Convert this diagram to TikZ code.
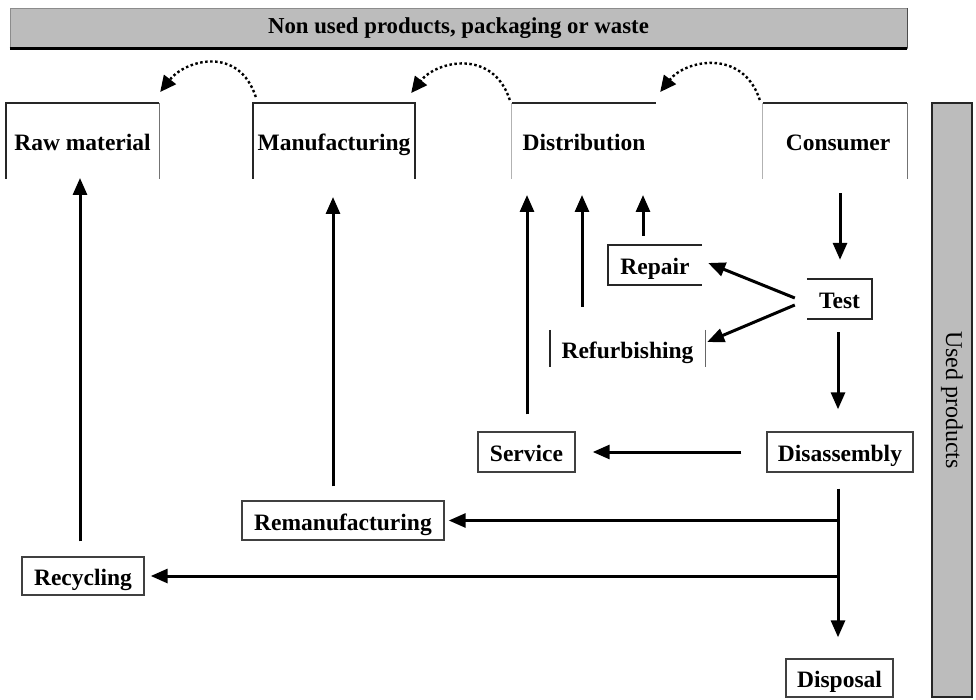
\documentclass[tikz,border=0pt]{standalone}
\usepackage{fontspec}
\setmainfont{Liberation Serif}
\usetikzlibrary{arrows.meta,calc}
\definecolor{panelgray}{HTML}{BCBCBC}
\begin{document}
\begin{tikzpicture}[x=1pt,y=-1pt,
  stage/.style={inner sep=0pt, text height=21pt, text depth=2pt, font=\fontsize{23.5}{26}\selectfont\bfseries},
  rim/.style={line width=1.8pt, draw=black!85},
  softrim/.style={line width=1.2pt, draw=black!30},
  flow/.style={line width=3pt, -{Triangle[length=17pt,width=14pt]}},
  loopback/.style={line width=2.4pt, dash pattern=on 2.5pt off 2.5pt, -{Triangle[length=16pt,width=15pt]}},
  panel/.style={fill=panelgray, inner sep=0pt},
]
\useasboundingbox (0,0) rectangle (976,700);

% banner for material that leaves the chain
\node[panel, draw=black!45, line width=0.8pt, minimum width=897pt, minimum height=40pt,
      font=\fontsize{22.8}{25}\selectfont\bfseries] (waste) at (458.5,28)
      {Non used products, packaging or waste};
\draw[line width=2.4pt] (waste.south west) -- (waste.south east);
\draw[line width=1.2pt, black!70] (waste.south east) -- (waste.north east);

% side bar for returned products
\node[panel, draw=black!85, line width=1.6pt, rotate=-90, minimum width=594pt, minimum height=40pt,
      font=\fontsize{24}{26}\selectfont] (used) at (952,400) {Used products};

% forward chain stages (open at the bottom)
\node[stage, minimum width=153pt, minimum height=76pt] (raw)  at (82.5,141) {Raw material};
\node[stage, minimum width=162pt, minimum height=76pt] (manu) at (334,141)  {Manufacturing};
\node[stage, minimum width=144pt, minimum height=76pt] (dist) at (584,141)  {Distribution};
\node[stage, minimum width=144pt, minimum height=76pt] (cons) at (838,141)  {Consumer};

\coordinate (topedge) at (0,103);
\coordinate (botedge) at (0,179);
\draw[rim] (raw.west |- botedge) -- (raw.west |- topedge) -- (raw.east |- topedge);
\draw[softrim, draw=black!55] (raw.east |- topedge) -- (raw.east |- botedge);
\draw[rim] (manu.west |- botedge) -- (manu.west |- topedge) -- (manu.east |- topedge) -- (manu.east |- botedge);
\draw[softrim] (dist.west |- botedge) -- (dist.west |- topedge);
\draw[rim] (dist.west |- topedge) -- (dist.east |- topedge);
\draw[softrim] ($(cons.west |- botedge)+(-3,0)$) -- ($(cons.west |- topedge)+(-3,0)$);
\draw[rim] ($(cons.west |- topedge)+(-3,0)$) -- ($(cons.east |- topedge)+(-3,0)$);
\draw[softrim, draw=black!55] ($(cons.east |- topedge)+(-3,0)$) -- ($(cons.east |- botedge)+(-3,0)$);

% recovery options
\node[stage, minimum width=94pt, minimum height=40pt] (repair) at (655,265) {Repair};
\draw[rim] (repair.north east) -- (repair.north west) -- (repair.south west) -- (repair.south east);

\node[stage, minimum width=65pt, minimum height=40pt] (test) at (839.5,299) {Test};
\draw[rim] (test.north west) -- (test.north east) -- (test.south east) -- (test.south west);

\node[stage, minimum width=155pt, minimum height=37pt] (refurb) at (627.5,348.5) {Refurbishing};
\draw[rim] (refurb.north west) -- (refurb.south west);
\draw[softrim, draw=black!60] (refurb.north east) -- (refurb.south east);

\node[stage, draw=black!75, line width=1.4pt, minimum width=97pt,  minimum height=40pt] (service)  at (526.5,452) {Service};
\node[stage, draw=black!75, line width=1.4pt, minimum width=146pt, minimum height=40pt] (disasm)   at (840,452)   {Disassembly};
\node[stage, draw=black!75, line width=1.4pt, minimum width=202pt, minimum height=39pt] (reman)    at (343,520.5) {Remanufacturing};
\node[stage, draw=black!75, line width=1.4pt, minimum width=122pt, minimum height=38pt] (recyc)    at (83,576)    {Recycling};
\node[stage, draw=black!75, line width=1.4pt, minimum width=107pt, minimum height=38pt] (disposal) at (839.5,678) {Disposal};

% flows back into the forward chain
\draw[flow] ($(recyc.north)+(-3,-15)$) -- ($(recyc.north |- botedge)+(-3,-1)$);
\draw[flow] ($(reman.north)+(-10,-14)$) -- ($(reman.north |- botedge)+(-10,18)$);
\draw[flow] ($(service.north)+(0.5,-17)$) -- ($(service.north |- botedge)+(0.5,16)$);
\draw[flow] ($(refurb.north)+(-45.5,-23)$) -- ($(refurb.north |- botedge)+(-45.5,16)$);
\draw[flow] ($(repair.north)+(-12,-9)$) -- ($(repair.north |- botedge)+(-12,16)$);

% consumer returns
\draw[flow] ($(cons.south)+(2,14)$) -- ($(test.north)+(0.5,-19)$);
\draw[flow] ($(test.west)+(-12,-1)$) -- ($(repair.east)+(6,-2)$);
\draw[flow] ($(test.west)+(-12,6)$) -- ($(refurb.east)+(2,-6.5)$);
\draw[flow] ($(test.south)+(-1.5,13)$) -- ($(disasm.north)+(-2,-22)$);
\draw[flow] ($(disasm.west)+(-25,0)$) -- ($(service.east)+(17,0)$);

% disassembly trunk and its branches
\path ($(disasm.south)+(-2,0)$) coordinate (trunk);
\draw[flow] ($(disasm.south)+(-2,16)$) -- ($(disposal.north)+(-1.5,-21)$);
\draw[flow] (trunk |- reman.east) -- ($(reman.east)+(4,0)$);
\draw[flow] (trunk |- recyc.east) -- ($(recyc.east)+(6,0)$);

% leftover material passed backwards
\draw[loopback] ($(manu.west |- topedge)+(3,-6)$) .. controls +(-17,-52) and +(25,-32) .. ($(raw.east |- topedge)+(1,-11)$);
\draw[loopback] ($(dist.west |- topedge)+(-2,-3)$) .. controls +(-17,-52) and +(25,-32) .. ($(manu.east |- topedge)+(-4,-10)$);
\draw[loopback] ($(cons.west |- topedge)+(-6,-3)$) .. controls +(-17,-52) and +(25,-32) .. ($(dist.east |- topedge)+(4,-11)$);
\end{tikzpicture}
\end{document}
